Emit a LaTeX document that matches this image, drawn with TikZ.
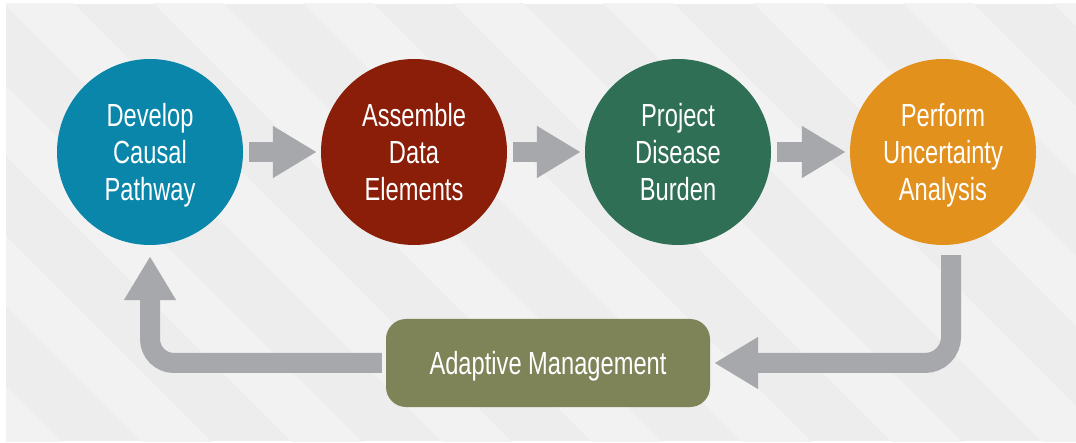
\documentclass[tikz,border=0pt]{standalone}
\usepackage{fontspec}
\setmainfont[FakeStretch=0.74]{Liberation Sans}
\usetikzlibrary{arrows.meta}
\definecolor{panelbg}{HTML}{EDEDED}
\definecolor{stripebg}{HTML}{F2F2F2}
\definecolor{cblue}{HTML}{0A86AA}
\definecolor{cred}{HTML}{8A1E08}
\definecolor{cgreen}{HTML}{2F6F56}
\definecolor{corange}{HTML}{E3911D}
\definecolor{bolive}{HTML}{7E8458}
\definecolor{agray}{HTML}{A7A8AB}
\tikzset{
  stepcircle/.style={circle, minimum size=186pt, inner sep=0pt, text=white, align=center,
    text depth=0pt, font=\fontsize{32}{37}\selectfont},
  mgmtbox/.style={rounded corners=20pt, minimum width=324pt, minimum height=88pt, inner sep=0pt,
    text=white, fill=bolive, text depth=0pt, font=\fontsize{32}{37}\selectfont},
  bigarrow/.style={draw=agray, line width=20pt, -{Triangle[length=44pt,width=49pt]}, agray},
}
\begin{document}
\begin{tikzpicture}[x=1pt,y=-1pt]
\useasboundingbox (0,0) rectangle (1076,443);
\fill[white] (0,0) rectangle (1076,443);
\begin{scope}
\clip (6,4) rectangle (1076,441);
\fill[panelbg] (6,4) rectangle (1076,441);
\foreach \i in {-4,...,8} {
  \fill[stripebg] (\i*150,0) -- ++(70,0) -- ++(460,460) -- ++(-70,0) -- cycle;
}
\end{scope}

\node[stepcircle, fill=cblue]   (c1) at (150,152) {Develop\\Causal\\Pathway};
\node[stepcircle, fill=cred]    (c2) at (414,152) {Assemble\\Data\\Elements};
\node[stepcircle, fill=cgreen]  (c3) at (678,152) {Project\\Disease\\Burden};
\node[stepcircle, fill=corange] (c4) at (943,152) {Perform\\Uncertainty\\Analysis};
\node[mgmtbox] (box) at (548,363) {Adaptive Management};

\draw[bigarrow] ([xshift=6pt]c1.east) -- ([xshift=-4pt]c2.west);
\draw[bigarrow] ([xshift=6pt]c2.east) -- ([xshift=-4pt]c3.west);
\draw[bigarrow] ([xshift=6pt]c3.east) -- ([xshift=-4pt]c4.west);

\coordinate (r0) at ([xshift=8pt,yshift=-10pt]c4.south);
\coordinate (r1) at ([xshift=4pt]box.east);
\draw[bigarrow, rounded corners=26pt] (r0) |- (r1);

\coordinate (l0) at ([xshift=-4pt]box.west);
\coordinate (l1) at ([yshift=-11pt]c1.south);
\draw[bigarrow, rounded corners=24pt] (l0) -| (l1);
\end{tikzpicture}
\end{document}
